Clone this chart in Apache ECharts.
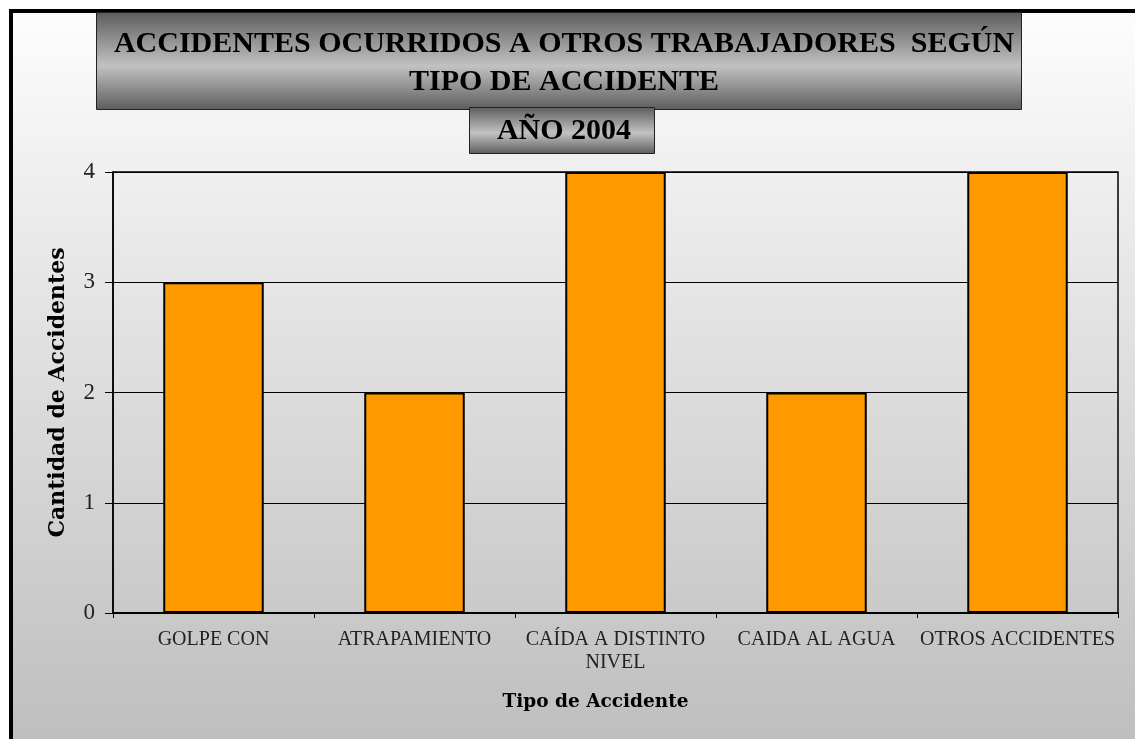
<!DOCTYPE html>
<html>
<head>
<meta charset="utf-8">
<script src="https://cdn.jsdelivr.net/npm/echarts@6/dist/echarts.min.js"></script>
<style>
  html, body { margin: 0; padding: 0; background: #ffffff; overflow: hidden; }
  #chart { width: 1135px; height: 739px; }
</style>
</head>
<body>
<div id="chart"></div>
<script>
// data
const categories = ['GOLPE CON', 'ATRAPAMIENTO', 'CAÍDA A DISTINTO\nNIVEL', 'CAIDA AL AGUA', 'OTROS ACCIDENTES'];
const accidentes = [3, 2, 4, 2, 4];
const yTicks = [0, 1, 2, 3, 4];

const titleLine1 = 'ACCIDENTES OCURRIDOS A OTROS TRABAJADORES  SEGÚN';
const titleLine2 = 'TIPO DE ACCIDENTE';
const subTitle = 'AÑO 2004';

const boxGradient = {
  type: 'linear', x: 0, y: 0, x2: 0, y2: 1,
  colorStops: [
    { offset: 0, color: '#5c5c5c' },
    { offset: 0.55, color: '#c2c2c2' },
    { offset: 1, color: '#5c5c5c' }
  ]
};

const chart = echarts.init(document.getElementById('chart'));
const option = {
  animation: false,
  graphic: [
    {
      // chart area background, running off the right and bottom edges
      type: 'rect', z: -10, silent: true,
      shape: { x: 11, y: 11, width: 1200, height: 760 },
      style: {
        fill: {
          type: 'linear', x: 0, y: 0, x2: 0, y2: 1,
          colorStops: [
            { offset: 0, color: '#fdfdfd' },
            { offset: 0.95, color: '#bfbfbf' },
            { offset: 1, color: '#bdbdbd' }
          ]
        }
      }
    },
    {
      type: 'polyline', z: -9, silent: true,
      shape: { points: [[11, 760], [11, 11], [1200, 11]] },
      style: { stroke: '#000', lineWidth: 4, fill: null }
    },
    {
      type: 'rect', z: -5, silent: true,
      shape: { x: 96.5, y: 12.5, width: 925, height: 97 },
      style: { fill: boxGradient, stroke: '#222', lineWidth: 1 }
    },
    {
      type: 'rect', z: -4, silent: true,
      shape: { x: 469.5, y: 107.5, width: 185, height: 46 },
      style: { fill: boxGradient, stroke: '#222', lineWidth: 1 }
    }
  ],
  title: [
    {
      text: titleLine1 + '\n' + titleLine2,
      left: 559, top: 20, textAlign: 'center',
      textStyle: {
        fontFamily: 'Liberation Serif', fontWeight: 'bold', fontSize: 30,
        color: '#000', lineHeight: 38
      }
    },
    {
      text: subTitle,
      left: 559, top: 110, textAlign: 'center',
      textStyle: {
        fontFamily: 'Liberation Serif', fontWeight: 'bold', fontSize: 30,
        color: '#000', lineHeight: 32
      }
    }
  ],
  grid: {
    left: 113, right: 17, top: 172, bottom: 126,
    show: true, borderColor: '#000', borderWidth: 1.5,
    backgroundColor: 'transparent'
  },
  xAxis: {
    type: 'category',
    data: categories,
    name: 'Tipo de Accidente',
    nameLocation: 'middle',
    nameGap: 80,
    nameTextStyle: {
      fontFamily: 'DejaVu Serif', fontWeight: 'bold', fontSize: 18.5,
      color: '#000', padding: [0, 40, 0, 0]
    },
    axisLine: { lineStyle: { color: '#000', width: 2 } },
    axisTick: { show: true, length: 5, lineStyle: { color: '#000' } },
    axisLabel: {
      fontFamily: 'Liberation Serif', fontSize: 20, color: '#222',
      margin: 15, lineHeight: 23, interval: 0
    }
  },
  yAxis: {
    type: 'value',
    min: yTicks[0],
    max: yTicks[yTicks.length - 1],
    interval: 1,
    name: 'Cantidad de Accidentes',
    nameLocation: 'middle',
    nameGap: 44,
    nameTextStyle: {
      fontFamily: 'DejaVu Serif', fontWeight: 'bold', fontSize: 22, color: '#000'
    },
    axisLine: { show: true, lineStyle: { color: '#000', width: 1.5 } },
    axisTick: { show: true, length: 8, lineStyle: { color: '#000' } },
    splitLine: { show: true, lineStyle: { color: '#000', width: 1 } },
    axisLabel: {
      fontFamily: 'Liberation Serif', fontSize: 23, color: '#222', margin: 18
    }
  },
  series: [
    {
      type: 'bar',
      data: accidentes,
      barWidth: '50%',
      itemStyle: { color: '#ff9900', borderColor: '#000', borderWidth: 2 }
    }
  ]
};
chart.setOption(option);
</script>
</body>
</html>
